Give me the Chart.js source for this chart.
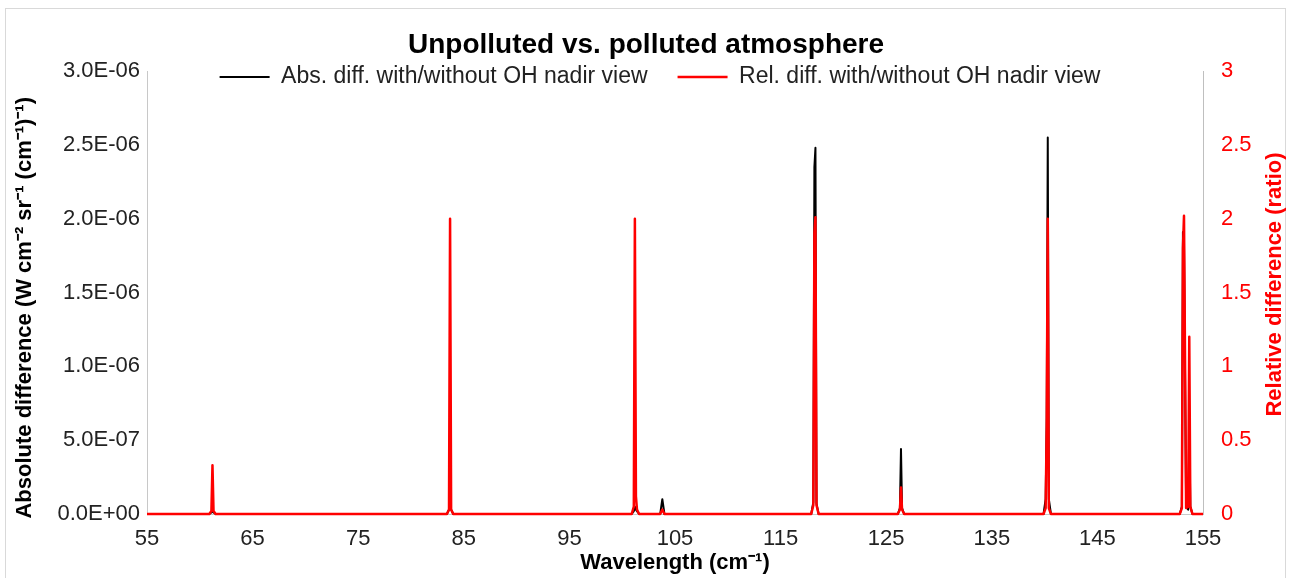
<!DOCTYPE html>
<html>
<head>
<meta charset="utf-8">
<title>Unpolluted vs. polluted atmosphere</title>
<script src="https://cdn.jsdelivr.net/npm/chart.js@4.4.1/dist/chart.umd.min.js"></script>
<style>
  html, body { margin: 0; padding: 0; background: #fff; }
  #wrap { position: relative; width: 1292px; height: 578px; }
</style>
</head>
<body>
<div id="wrap"><canvas id="chart" width="1292" height="578"></canvas></div>
<script>
// Wavelength points (cm-1), shared by both series
const wavelength = [
  55,
  60.9, 61.1, 61.2, 61.3, 61.5,
  83.4, 83.6, 83.7, 83.8, 84.0,
  100.9, 101.1, 101.2, 101.3, 101.4, 101.6,
  103.6, 103.8, 104.0,
  117.9, 118.1, 118.2, 118.3, 118.4, 118.6,
  126.1, 126.3, 126.4, 126.5, 126.7,
  139.9, 140.1, 140.2, 140.3, 140.4, 140.6,
  152.8, 153.0, 153.1, 153.2, 153.4, 153.6, 153.7, 153.8, 154.0,
  155
];

// Abs. diff. with/without OH nadir view (W cm-2 sr-1 (cm-1)-1)
const absDiff = [
  0,
  0, 0.01e-6, 0.02e-6, 0.01e-6, 0,
  0, 0.03e-6, 0.04e-6, 0.03e-6, 0,
  0, 0.02e-6, 0.05e-6, 0.03e-6, 0.02e-6, 0,
  0, 0.10e-6, 0,
  0, 0.08e-6, 2.35e-6, 2.48e-6, 0.07e-6, 0,
  0, 0.04e-6, 0.44e-6, 0.04e-6, 0,
  0, 0.10e-6, 0.65e-6, 2.55e-6, 0.10e-6, 0,
  0, 0.05e-6, 1.91e-6, 1.85e-6, 0.05e-6, 0.03e-6, 0.60e-6, 0.05e-6, 0,
  0
];

// Rel. diff. with/without OH nadir view (ratio)
const relDiff = [
  0,
  0, 0.02, 0.33, 0.02, 0,
  0, 0.03, 2.0, 0.03, 0,
  0, 0.05, 2.0, 0.12, 0.03, 0,
  0, 0.03, 0,
  0, 0.06, 1.9, 2.01, 0.06, 0,
  0, 0.03, 0.18, 0.03, 0,
  0, 0.04, 0.6, 2.0, 0.04, 0,
  0, 0.04, 1.8, 2.02, 0.04, 0.05, 1.2, 0.05, 0,
  0
];

// Tick labels
const xTicks = [55, 65, 75, 85, 95, 105, 115, 125, 135, 145, 155];
const absTicks = [0, 0.5e-6, 1.0e-6, 1.5e-6, 2.0e-6, 2.5e-6, 3.0e-6];
const relTicks = [0, 0.5, 1, 1.5, 2, 2.5, 3];

const FONT = "'Liberation Sans', Arial, sans-serif";
Chart.defaults.font.family = FONT;

// Excel style scientific label, e.g. 2.5E-06
function sciLabel(v) {
  if (Math.abs(v) < 1e-15) return "0.0E+00";
  const parts = v.toExponential(1).split("e");
  const exp = parseInt(parts[1], 10);
  const sign = exp < 0 ? "-" : "+";
  return parts[0] + "E" + sign + String(Math.abs(exp)).padStart(2, "0");
}

function toPoints(values) {
  return wavelength.map(function (w, i) {
    return { x: w, y: values[i] };
  });
}

// Light frame round the chart, like the spreadsheet chart object
const framePlugin = {
  id: "frame",
  beforeDraw: function (chart) {
    const ctx = chart.ctx;
    ctx.save();
    ctx.fillStyle = "#ffffff";
    ctx.fillRect(0, 0, chart.width, chart.height);
    ctx.strokeStyle = "#d9d9d9";
    ctx.lineWidth = 1;
    ctx.strokeRect(5.5, 8.5, 1280, 575);
    ctx.restore();
  }
};

// The legend sits on the same row as the top tick labels, so it must not
// push the plot area down: give it a small layout height, then give its
// real height back after layout so the text isn't clipped
const legendOverlapPlugin = {
  id: "legendOverlap",
  beforeLayout: function (chart) {
    const legend = chart.legend;
    if (legend && !legend._overlapPatched) {
      const fit = legend.fit;
      legend.fit = function () {
        fit.call(this);
        this._fullHeight = this.height;
        this.height = 35.5;
      };
      legend._overlapPatched = true;
    }
  },
  afterLayout: function (chart) {
    const legend = chart.legend;
    if (legend && legend._fullHeight) {
      legend.height = legend._fullHeight;
      legend.bottom = legend.top + legend._fullHeight;
      // original legend is centred a little right of the page centre
      legend.left = 28;
    }
  }
};

// Right axis title reads bottom to top in the original
const rightTitlePlugin = {
  id: "rightTitle",
  afterDraw: function (chart) {
    const ctx = chart.ctx;
    const area = chart.chartArea;
    ctx.save();
    ctx.translate(1275, (area.top + area.bottom) / 2 - 8);
    ctx.rotate(-Math.PI / 2);
    ctx.font = "bold 22px " + FONT;
    ctx.fillStyle = "#ff0000";
    ctx.textAlign = "center";
    ctx.textBaseline = "middle";
    ctx.fillText("Relative difference (ratio)", 0, 0);
    ctx.restore();
  }
};

const ctx = document.getElementById("chart").getContext("2d");

new Chart(ctx, {
  type: "line",
  data: {
    datasets: [
      {
        label: "Abs. diff. with/without OH nadir view",
        data: toPoints(absDiff),
        yAxisID: "y",
        borderColor: "#000000",
        backgroundColor: "#000000",
        borderWidth: 2,
        pointRadius: 0,
        tension: 0,
        borderJoinStyle: "round",
        clip: false,
        order: 1
      },
      {
        label: "Rel. diff. with/without OH nadir view",
        data: toPoints(relDiff),
        yAxisID: "y1",
        borderColor: "#ff0000",
        backgroundColor: "#ff0000",
        borderWidth: 2.5,
        pointRadius: 0,
        tension: 0,
        borderJoinStyle: "round",
        clip: false,
        order: 0
      }
    ]
  },
  options: {
    responsive: false,
    animation: false,
    events: [],
    layout: { padding: { top: 10, left: 0, right: 0, bottom: 0 } },
    plugins: {
      title: {
        display: true,
        text: "Unpolluted vs. polluted atmosphere",
        color: "#000000",
        font: { size: 28, weight: "bold" },
        padding: { top: 18.2, bottom: -26.3 }
      },
      legend: {
        position: "top",
        labels: {
          color: "#222222",
          font: { size: 23 },
          usePointStyle: true,
          pointStyle: "line",
          pointStyleWidth: 50,
          padding: 30,
          sort: function (a, b) {
            return a.datasetIndex - b.datasetIndex;
          }
        }
      },
      tooltip: { enabled: false }
    },
    scales: {
      x: {
        type: "linear",
        min: 55,
        max: 155,
        afterBuildTicks: function (scale) {
          scale.ticks = xTicks.map(function (v) { return { value: v }; });
        },
        afterFit: function (scale) { scale.height = 64; },
        grid: { display: false, drawTicks: false },
        border: { display: true, color: "#c8c8c8", width: 1 },
        ticks: {
          color: "#222222",
          font: { size: 22 },
          padding: 12,
          maxRotation: 0,
          autoSkip: false
        },
        title: {
          display: true,
          text: "Wavelength (cm\u207B\u00B9)",
          color: "#000000",
          font: { size: 22, weight: "bold" },
          padding: { top: 0, bottom: 2 }
        }
      },
      y: {
        position: "left",
        min: 0,
        max: 3e-6,
        afterBuildTicks: function (scale) {
          scale.ticks = absTicks.map(function (v) { return { value: v }; });
        },
        afterFit: function (scale) { scale.width = 147; },
        grid: { display: false, drawTicks: false },
        border: { display: true, color: "#c8c8c8", width: 1 },
        ticks: {
          color: "#222222",
          font: { size: 22 },
          padding: 7,
          callback: function (value) { return sciLabel(value); }
        },
        title: {
          display: true,
          // trailing spaces nudge the centred title down like the original
          text: "Absolute difference (W cm\u207B\u00B2 sr\u207B\u00B9 (cm\u207B\u00B9)\u207B\u00B9)\u00A0\u00A0\u00A0\u00A0\u00A0",
          color: "#000000",
          font: { size: 22, weight: "bold" },
          padding: { top: 12, bottom: 0 }
        }
      },
      y1: {
        position: "right",
        min: 0,
        max: 3,
        afterBuildTicks: function (scale) {
          scale.ticks = relTicks.map(function (v) { return { value: v }; });
        },
        afterFit: function (scale) { scale.width = 89; },
        grid: { display: false, drawTicks: false },
        border: { display: true, color: "#bfbfbf", width: 1 },
        ticks: {
          color: "#ff0000",
          font: { size: 22 },
          padding: 18,
          callback: function (value) { return String(Number(value.toFixed(1))); }
        },
        title: { display: false }
      }
    }
  },
  plugins: [framePlugin, legendOverlapPlugin, rightTitlePlugin]
});
</script>
</body>
</html>
